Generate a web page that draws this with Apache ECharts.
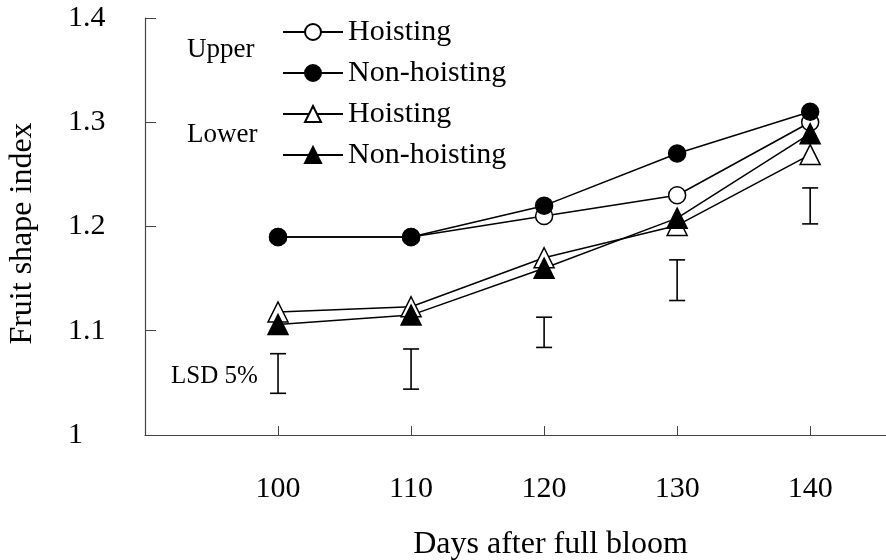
<!DOCTYPE html>
<html>
<head>
<meta charset="utf-8">
<style>
  html, body { margin: 0; padding: 0; background: #fff; }
  #chart { width: 886px; height: 560px; }
</style>
<script src="https://cdn.jsdelivr.net/npm/echarts@6/dist/echarts.min.js"></script>
</head>
<body>
<div id="chart"></div>
<script>
// Days after full bloom
const days = [100, 110, 120, 130, 140];
const dayTicks = [100, 110, 120, 130, 140];
const yTicks = [1, 1.1, 1.2, 1.3, 1.4];

// Fruit shape index by canopy position and treatment
const upperHoisting    = [1.19, 1.19, 1.21, 1.23, 1.30];
const upperNonHoisting = [1.19, 1.19, 1.22, 1.27, 1.31];
const lowerHoisting    = [1.118, 1.123, 1.17, 1.201, 1.269];
const lowerNonHoisting = [1.106, 1.115, 1.16, 1.208, 1.289];

// LSD (5%) bars: lower and upper ends
const lsdLow  = [1.040, 1.044, 1.084, 1.129, 1.2025];
const lsdHigh = [1.078, 1.0825, 1.113, 1.168, 1.237];

const FONT = "'Liberation Serif', 'Times New Roman', serif";
const AXIS_COLOR = '#444';

const pairs = (vals) => days.map((d, i) => [d, vals[i]]);

function lineSeries(name, vals, symbol, size, filled) {
  return {
    type: 'line',
    name: name,
    data: pairs(vals),
    symbol: symbol,
    symbolSize: size,
    showAllSymbol: true,
    lineStyle: { color: '#000', width: 1.5 },
    itemStyle: {
      color: filled ? '#000' : '#fff',
      borderColor: '#000',
      borderWidth: 1.5
    },
    emphasis: { disabled: true },
    z: 3
  };
}

const chart = echarts.init(document.getElementById('chart'), null, { renderer: 'canvas' });

chart.setOption({
  animation: false,
  backgroundColor: '#fff',
  grid: { left: 145, right: 0, top: 18, bottom: 125, containLabel: false, outerBoundsMode: 'none' },
  legend: {
    orient: 'vertical',
    left: 277,
    top: 12,
    itemWidth: 60,
    itemHeight: 20,
    itemGap: 11,
    selectedMode: false,
    data: ['Upper Hoisting', 'Upper Non-hoisting', 'Lower Hoisting', 'Lower Non-hoisting'],
    formatter: (n) => n.replace(/^(Upper|Lower) /, ''),
    textStyle: { fontFamily: FONT, fontSize: 30, color: '#000' }
  },
  xAxis: {
    type: 'value',
    min: 90,
    max: 145.7,
    name: 'Days after full bloom',
    nameLocation: 'middle',
    nameGap: 94,
    nameTextStyle: { fontFamily: FONT, fontSize: 32, color: '#000', padding: [0, 0, 0, 70] },
    axisLine: { show: true, lineStyle: { color: AXIS_COLOR, width: 1.2 } },
    axisTick: { show: true, inside: true, length: 9, customValues: dayTicks, lineStyle: { color: AXIS_COLOR } },
    axisLabel: { customValues: dayTicks, margin: 39, fontFamily: FONT, fontSize: 30, color: '#000' },
    splitLine: { show: false }
  },
  yAxis: {
    type: 'value',
    min: 1,
    max: 1.4,
    interval: 0.1,
    name: 'Fruit shape index',
    nameLocation: 'middle',
    nameGap: 106,
    nameTextStyle: { fontFamily: FONT, fontSize: 32, color: '#000', padding: [0, 14, 0, 0] },
    axisLine: { show: true, lineStyle: { color: AXIS_COLOR, width: 1.2 } },
    axisTick: { show: true, inside: true, length: 11, lineStyle: { color: AXIS_COLOR } },
    axisLabel: {
      margin: 77,
      align: 'left',
      fontFamily: FONT,
      fontSize: 30,
      color: '#000',
      formatter: (v) => String(Math.round(v * 10) / 10)
    },
    splitLine: { show: false }
  },
  graphic: [
    { type: 'text', left: 187, top: 36, style: { text: 'Upper', font: '27px ' + FONT, fill: '#000' } },
    { type: 'text', left: 187, top: 121, style: { text: 'Lower', font: '27px ' + FONT, fill: '#000' } },
    { type: 'text', left: 171, top: 364, style: { text: 'LSD 5%', font: '25px ' + FONT, fill: '#000' } }
  ],
  series: [
    {
      type: 'custom',
      name: 'LSD',
      data: days.map((d, i) => [d, lsdLow[i], lsdHigh[i]]),
      renderItem: function (params, api) {
        const lo = api.coord([api.value(0), api.value(1)]);
        const hi = api.coord([api.value(0), api.value(2)]);
        const half = 8;
        const style = { stroke: '#000', lineWidth: 1.6 };
        return {
          type: 'group',
          children: [
            { type: 'line', shape: { x1: hi[0], y1: hi[1], x2: lo[0], y2: lo[1] }, style: style },
            { type: 'line', shape: { x1: hi[0] - half, y1: hi[1], x2: hi[0] + half, y2: hi[1] }, style: style },
            { type: 'line', shape: { x1: lo[0] - half, y1: lo[1], x2: lo[0] + half, y2: lo[1] }, style: style }
          ]
        };
      },
      silent: true,
      z: 2
    },
    lineSeries('Upper Hoisting', upperHoisting, 'circle', 17, false),
    lineSeries('Upper Non-hoisting', upperNonHoisting, 'circle', 17, true),
    lineSeries('Lower Hoisting', lowerHoisting, 'triangle', 20, false),
    lineSeries('Lower Non-hoisting', lowerNonHoisting, 'triangle', 20, true)
  ]
});
</script>
</body>
</html>
